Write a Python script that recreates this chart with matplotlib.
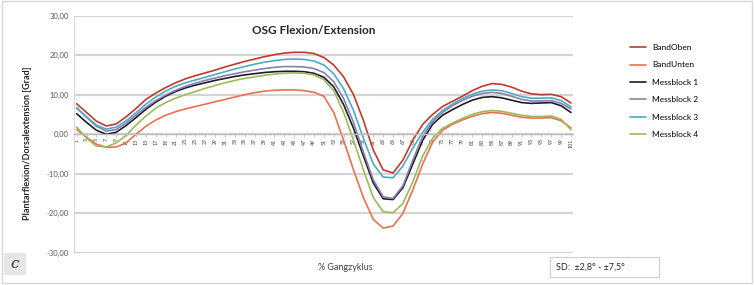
import matplotlib.pyplot as plt
import matplotlib.patches as patches
from matplotlib.ticker import FuncFormatter

plt.rcParams['font.family'] = ['Lato', 'DejaVu Sans']

# % Gangzyklus, every second point
x = list(range(1, 102, 2))

band_oben = [7.7, 5.5, 3.3, 2.1, 2.6, 4.4, 6.5, 8.8, 10.4, 11.8,
             13.0, 14.0, 14.8, 15.5, 16.2, 17.0, 17.7, 18.4, 19.0, 19.6,
             20.1, 20.5, 20.7, 20.7, 20.4, 19.4, 17.5, 14.5, 10.0, 3.5,
             -4.0, -9.0, -9.8, -6.5, -1.5, 2.5, 5.0, 7.0, 8.3, 9.6,
             11.0, 12.1, 12.8, 12.6, 11.9, 10.9, 10.2, 10.0, 10.1, 9.5,
             7.9]
band_unten = [1.2, -0.8, -2.5, -3.3, -3.2, -2.2, 0.0, 2.0, 3.6, 4.8,
              5.7, 6.4, 7.0, 7.6, 8.2, 8.8, 9.4, 10.0, 10.5, 10.9,
              11.1, 11.2, 11.2, 11.0, 10.6, 9.6, 5.5, -1.5, -9.0, -16.0,
              -21.5, -23.7, -23.2, -20.0, -14.0, -7.5, -2.0, 1.0, 2.5, 3.6,
              4.5, 5.2, 5.5, 5.3, 4.8, 4.3, 4.1, 4.1, 4.2, 3.4,
              1.6]
messblock1 = [5.2, 3.0, 1.0, 0.0, 0.5, 2.2, 4.2, 6.3, 8.1, 9.6,
              10.8, 11.7, 12.4, 13.0, 13.6, 14.1, 14.6, 15.0, 15.3, 15.6,
              15.8, 15.9, 15.9, 15.8, 15.4, 14.4, 12.0, 7.5, 1.5, -5.5,
              -12.3, -16.3, -16.5, -13.5, -7.5, -1.5, 2.5, 4.8, 6.2, 7.5,
              8.6, 9.3, 9.5, 9.2, 8.6, 8.0, 7.8, 7.9, 8.0, 7.2,
              5.5]
messblock2 = [6.7, 4.3, 2.0, 0.8, 1.2, 2.8, 4.8, 6.8, 8.5, 9.9,
              11.1, 12.1, 12.9, 13.6, 14.2, 14.8, 15.3, 15.8, 16.2, 16.6,
              16.9, 17.1, 17.1, 17.0, 16.6, 15.6, 13.3, 9.0, 3.0, -4.5,
              -11.5, -15.8, -16.2, -13.0, -6.5, -0.5, 3.2, 5.5, 7.2, 8.5,
              9.6, 10.3, 10.6, 10.3, 9.6, 8.8, 8.4, 8.4, 8.5, 7.8,
              6.4]
messblock3 = [6.6, 4.4, 2.3, 1.3, 1.8, 3.4, 5.4, 7.6, 9.4, 10.9,
              12.1, 13.0, 13.7, 14.4, 15.1, 15.8, 16.5, 17.1, 17.7, 18.2,
              18.6, 18.9, 19.0, 18.9, 18.5, 17.5, 15.3, 11.5, 6.0, -1.0,
              -7.5, -10.8, -11.0, -8.0, -3.5, 0.5, 3.8, 6.0, 7.6, 9.0,
              10.1, 10.9, 11.2, 11.0, 10.3, 9.5, 9.1, 9.1, 9.2, 8.5,
              6.9]
messblock4 = [1.8, -1.0, -3.0, -3.2, -2.2, -0.3, 2.3, 4.6, 6.6, 8.0,
              9.1, 10.0, 10.8, 11.6, 12.3, 13.0, 13.6, 14.1, 14.5, 14.9,
              15.2, 15.4, 15.5, 15.4, 15.0, 13.8, 11.0, 5.5, -1.5, -9.0,
              -16.0, -19.6, -19.8, -17.5, -12.0, -5.5, -1.0, 1.5, 2.8, 4.0,
              5.0, 5.7, 6.0, 5.8, 5.3, 4.8, 4.5, 4.5, 4.6, 3.8,
              1.1]

series = [
    ('BandOben', band_oben, '#c0392b'),
    ('BandUnten', band_unten, '#e8714f'),
    ('Messblock 1', messblock1, '#1c1c2c'),
    ('Messblock 2', messblock2, '#8a80ad'),
    ('Messblock 3', messblock3, '#4bacc6'),
    ('Messblock 4', messblock4, '#9bbb59'),
]

fig = plt.figure(figsize=(7.54, 2.85), dpi=100)
ax = fig.add_axes([0.0984, 0.1123, 0.6622, 0.8333])

for name, vals, col in series:
    ax.plot(x, vals, color=col, lw=1.2, label=name, solid_capstyle='round')

for s in ['top', 'right']:
    ax.spines[s].set_visible(False)
ax.spines['left'].set_color('#d9d9d9')
ax.spines['left'].set_linewidth(0.8)
ax.spines['bottom'].set_position(('data', 0))
ax.spines['bottom'].set_color('#bfbfbf')
ax.spines['bottom'].set_linewidth(1.0)

ax.set_xlim(0.5, 101.5)
ax.set_ylim(-30, 30)
ax.set_yticks(range(-30, 31, 10))
ax.yaxis.set_major_formatter(FuncFormatter(lambda v, p: f'{v:.2f}'.replace('.', ',')))
ax.tick_params(axis='y', length=0, labelsize=5.5, labelcolor='#595959', pad=4)
ax.grid(axis='y', color='#d4d4d4', lw=1.6)
ax.set_axisbelow(True)

ax.set_xticks(x)
ax.set_xticklabels([str(v) for v in x])
ax.tick_params(axis='x', length=2, width=0.6, color='#bfbfbf', pad=1,
               labelsize=3.8, labelrotation=90, labelcolor='#404040')

fig.legend(loc='upper left', bbox_to_anchor=(630 / 754, 1 - 44 / 285),
           frameon=False, fontsize=6, labelspacing=1.25, handlelength=1.9,
           handletextpad=0.8, borderpad=0, borderaxespad=0)

fig.text(314 / 754, 1 - 30 / 285, 'OSG Flexion/Extension', ha='center', va='center',
         fontsize=8.5, fontweight='bold', color='#262626')
fig.text(27 / 754, 1 - 143 / 285, 'Plantarflexion/Dorsalextension [Grad]', rotation=90,
         ha='center', va='center', fontsize=6.5, fontweight='bold', color='#262626')
fig.text(345 / 754, 1 - 268 / 285, '% Gangzyklus', ha='center', va='center',
         fontsize=6.5, color='#404040')

# outer frame
fig.add_artist(patches.Rectangle((0.002, 0.007), 0.995, 0.99, transform=fig.transFigure,
                                 fill=False, edgecolor='#d8d8d8', lw=1))
# panel letter
fig.add_artist(patches.Rectangle((4 / 754, 1 - 275 / 285), 22 / 754, 22 / 285,
                                 transform=fig.transFigure, facecolor='#e6e6e6', edgecolor='none'))
fig.text(15 / 754, 1 - 264 / 285, 'c', ha='center', va='center', fontsize=11,
         style='italic', family='DejaVu Serif', color='#333333')
# SD box
fig.add_artist(patches.Rectangle((550 / 754, 1 - 277 / 285), 109 / 754, 20 / 285,
                                 transform=fig.transFigure, fill=False, edgecolor='#cfcfcf', lw=0.8))
fig.text(556 / 754, 1 - 267 / 285, 'SD:  ±2,8° - ±7,5°', ha='left', va='center',
         fontsize=6.5, color='#262626')

fig.savefig('out.png', dpi=100)
